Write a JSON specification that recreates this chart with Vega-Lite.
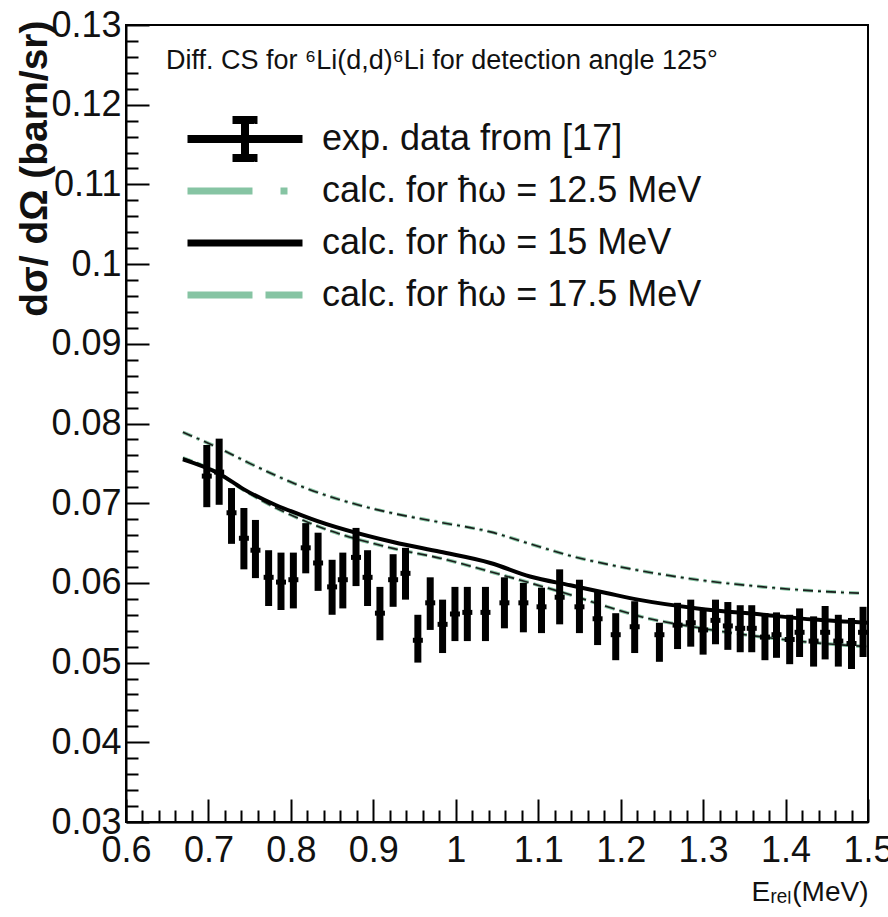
{
  "$schema": "https://vega.github.io/schema/vega-lite/v6.json",
  "width": 742,
  "height": 797,
  "autosize": "none",
  "padding": {"left": 126, "top": 25, "right": 20, "bottom": 95},
  "background": "white",
  "config": {
    "font": "Liberation Sans",
    "view": {"stroke": "#000", "strokeWidth": 2},
    "axis": {
      "grid": false,
      "domainColor": "#000",
      "domainWidth": 2,
      "tickColor": "#000",
      "tickWidth": 2,
      "labelFont": "Liberation Sans",
      "labelFontSize": 36,
      "labelColor": "#111",
      "labelFlush": false,
      "labelOverlap": false,
      "titleFont": "Liberation Sans",
      "titleColor": "#111"
    }
  },
  "title": {
    "text": "Diff. CS for ⁶Li(d,d)⁶Li for detection angle 125°",
    "anchor": "start",
    "frame": "group",
    "offset": -68,
    "dx": 40,
    "fontSize": 27,
    "fontWeight": "normal",
    "font": "Liberation Sans",
    "color": "#111"
  },
  "datasets": {
    "exp": [
      {"E": 0.698, "cs": 0.0734, "lo": 0.0695, "hi": 0.0773},
      {"E": 0.713, "cs": 0.0739, "lo": 0.0698, "hi": 0.0781},
      {"E": 0.728, "cs": 0.0688, "lo": 0.0649, "hi": 0.0719},
      {"E": 0.743, "cs": 0.0656, "lo": 0.0617, "hi": 0.0694},
      {"E": 0.757, "cs": 0.0641, "lo": 0.0606, "hi": 0.0679},
      {"E": 0.773, "cs": 0.0607, "lo": 0.0571, "hi": 0.0641},
      {"E": 0.788, "cs": 0.0601, "lo": 0.0566, "hi": 0.0638},
      {"E": 0.803, "cs": 0.0604, "lo": 0.0568, "hi": 0.0638},
      {"E": 0.818, "cs": 0.0644, "lo": 0.0612, "hi": 0.0675},
      {"E": 0.833, "cs": 0.0625, "lo": 0.0590, "hi": 0.0663},
      {"E": 0.850, "cs": 0.0595, "lo": 0.0560, "hi": 0.0629},
      {"E": 0.863, "cs": 0.0604, "lo": 0.0568, "hi": 0.0638},
      {"E": 0.879, "cs": 0.0632, "lo": 0.0596, "hi": 0.0669},
      {"E": 0.893, "cs": 0.0607, "lo": 0.0571, "hi": 0.0641},
      {"E": 0.908, "cs": 0.0562, "lo": 0.0528, "hi": 0.0595},
      {"E": 0.924, "cs": 0.0604, "lo": 0.0570, "hi": 0.0636},
      {"E": 0.939, "cs": 0.0612, "lo": 0.0579, "hi": 0.0644},
      {"E": 0.954, "cs": 0.0528, "lo": 0.0500, "hi": 0.0560},
      {"E": 0.969, "cs": 0.0575, "lo": 0.0541, "hi": 0.0607},
      {"E": 0.984, "cs": 0.0548, "lo": 0.0512, "hi": 0.0579},
      {"E": 0.999, "cs": 0.0561, "lo": 0.0527, "hi": 0.0595},
      {"E": 1.014, "cs": 0.0563, "lo": 0.0527, "hi": 0.0595},
      {"E": 1.036, "cs": 0.0563, "lo": 0.0527, "hi": 0.0595},
      {"E": 1.059, "cs": 0.0575, "lo": 0.0543, "hi": 0.0607},
      {"E": 1.082, "cs": 0.0575, "lo": 0.0538, "hi": 0.0600},
      {"E": 1.104, "cs": 0.0570, "lo": 0.0537, "hi": 0.0594},
      {"E": 1.126, "cs": 0.0582, "lo": 0.0548, "hi": 0.0617},
      {"E": 1.150, "cs": 0.0570, "lo": 0.0537, "hi": 0.0604},
      {"E": 1.172, "cs": 0.0555, "lo": 0.0522, "hi": 0.0589},
      {"E": 1.194, "cs": 0.0535, "lo": 0.0503, "hi": 0.0562},
      {"E": 1.217, "cs": 0.0545, "lo": 0.0512, "hi": 0.0577},
      {"E": 1.247, "cs": 0.0535, "lo": 0.0501, "hi": 0.0550},
      {"E": 1.269, "cs": 0.0547, "lo": 0.0517, "hi": 0.0575},
      {"E": 1.285, "cs": 0.0550, "lo": 0.0520, "hi": 0.0579},
      {"E": 1.300, "cs": 0.0541, "lo": 0.0510, "hi": 0.0567},
      {"E": 1.315, "cs": 0.0553, "lo": 0.0523, "hi": 0.0579},
      {"E": 1.330, "cs": 0.0546, "lo": 0.0516, "hi": 0.0576},
      {"E": 1.345, "cs": 0.0543, "lo": 0.0513, "hi": 0.0572},
      {"E": 1.359, "cs": 0.0543, "lo": 0.0513, "hi": 0.0572},
      {"E": 1.375, "cs": 0.0532, "lo": 0.0503, "hi": 0.0562},
      {"E": 1.389, "cs": 0.0535, "lo": 0.0506, "hi": 0.0563},
      {"E": 1.405, "cs": 0.0529, "lo": 0.0498, "hi": 0.0560},
      {"E": 1.417, "cs": 0.0538, "lo": 0.0507, "hi": 0.0568},
      {"E": 1.434, "cs": 0.0527, "lo": 0.0495, "hi": 0.0558},
      {"E": 1.448, "cs": 0.0538, "lo": 0.0504, "hi": 0.0571},
      {"E": 1.464, "cs": 0.0527, "lo": 0.0495, "hi": 0.0560},
      {"E": 1.480, "cs": 0.0524, "lo": 0.0492, "hi": 0.0556},
      {"E": 1.494, "cs": 0.0538, "lo": 0.0507, "hi": 0.0570}
    ],
    "calc": [
      {"series": "calc. for ħω = 12.5 MeV", "E": 0.669, "cs": 0.0789},
      {"series": "calc. for ħω = 12.5 MeV", "E": 0.713, "cs": 0.0769},
      {"series": "calc. for ħω = 12.5 MeV", "E": 0.750, "cs": 0.0750},
      {"series": "calc. for ħω = 12.5 MeV", "E": 0.823, "cs": 0.0717},
      {"series": "calc. for ħω = 12.5 MeV", "E": 0.896, "cs": 0.0694},
      {"series": "calc. for ħω = 12.5 MeV", "E": 0.930, "cs": 0.0686},
      {"series": "calc. for ħω = 12.5 MeV", "E": 0.981, "cs": 0.0676},
      {"series": "calc. for ħω = 12.5 MeV", "E": 1.042, "cs": 0.0664},
      {"series": "calc. for ħω = 12.5 MeV", "E": 1.090, "cs": 0.0649},
      {"series": "calc. for ħω = 12.5 MeV", "E": 1.139, "cs": 0.0634},
      {"series": "calc. for ħω = 12.5 MeV", "E": 1.200, "cs": 0.0620},
      {"series": "calc. for ħω = 12.5 MeV", "E": 1.293, "cs": 0.0604},
      {"series": "calc. for ħω = 12.5 MeV", "E": 1.373, "cs": 0.0595},
      {"series": "calc. for ħω = 12.5 MeV", "E": 1.434, "cs": 0.0590},
      {"series": "calc. for ħω = 12.5 MeV", "E": 1.493, "cs": 0.0587},
      {"series": "calc. for ħω = 15 MeV", "E": 0.669, "cs": 0.0755},
      {"series": "calc. for ħω = 15 MeV", "E": 0.713, "cs": 0.0737},
      {"series": "calc. for ħω = 15 MeV", "E": 0.742, "cs": 0.0718},
      {"series": "calc. for ħω = 15 MeV", "E": 0.823, "cs": 0.0681},
      {"series": "calc. for ħω = 15 MeV", "E": 0.925, "cs": 0.0651},
      {"series": "calc. for ħω = 15 MeV", "E": 0.981, "cs": 0.0639},
      {"series": "calc. for ħω = 15 MeV", "E": 1.042, "cs": 0.0625},
      {"series": "calc. for ħω = 15 MeV", "E": 1.090, "cs": 0.0608},
      {"series": "calc. for ħω = 15 MeV", "E": 1.139, "cs": 0.0597},
      {"series": "calc. for ħω = 15 MeV", "E": 1.184, "cs": 0.0587},
      {"series": "calc. for ħω = 15 MeV", "E": 1.221, "cs": 0.0579},
      {"series": "calc. for ħω = 15 MeV", "E": 1.293, "cs": 0.0568},
      {"series": "calc. for ħω = 15 MeV", "E": 1.373, "cs": 0.0560},
      {"series": "calc. for ħω = 15 MeV", "E": 1.434, "cs": 0.0554},
      {"series": "calc. for ħω = 15 MeV", "E": 1.500, "cs": 0.0550},
      {"series": "calc. for ħω = 17.5 MeV", "E": 0.669, "cs": 0.0757},
      {"series": "calc. for ħω = 17.5 MeV", "E": 0.713, "cs": 0.0737},
      {"series": "calc. for ħω = 17.5 MeV", "E": 0.742, "cs": 0.0717},
      {"series": "calc. for ħω = 17.5 MeV", "E": 0.823, "cs": 0.0675},
      {"series": "calc. for ħω = 17.5 MeV", "E": 0.925, "cs": 0.0643},
      {"series": "calc. for ħω = 17.5 MeV", "E": 0.981, "cs": 0.0631},
      {"series": "calc. for ħω = 17.5 MeV", "E": 1.042, "cs": 0.0614},
      {"series": "calc. for ħω = 17.5 MeV", "E": 1.090, "cs": 0.0600},
      {"series": "calc. for ħω = 17.5 MeV", "E": 1.139, "cs": 0.0585},
      {"series": "calc. for ħω = 17.5 MeV", "E": 1.184, "cs": 0.0570},
      {"series": "calc. for ħω = 17.5 MeV", "E": 1.227, "cs": 0.0557},
      {"series": "calc. for ħω = 17.5 MeV", "E": 1.293, "cs": 0.0544},
      {"series": "calc. for ħω = 17.5 MeV", "E": 1.373, "cs": 0.0532},
      {"series": "calc. for ħω = 17.5 MeV", "E": 1.434, "cs": 0.0525},
      {"series": "calc. for ħω = 17.5 MeV", "E": 1.500, "cs": 0.0520}
    ]
  },
  "encoding": {
    "x": {
      "field": "E", "type": "quantitative",
      "scale": {"domain": [0.6, 1.5], "nice": false, "zero": false},
      "axis": {
        "orient": "bottom",
        "values": [0.6, 0.62, 0.64, 0.66, 0.68, 0.7, 0.72, 0.74, 0.76, 0.78, 0.8, 0.82, 0.84, 0.86, 0.88, 0.9, 0.92, 0.94, 0.96, 0.98, 1.0, 1.02, 1.04, 1.06, 1.08, 1.1, 1.12, 1.14, 1.16, 1.18, 1.2, 1.22, 1.24, 1.26, 1.28, 1.3, 1.32, 1.34, 1.36, 1.38, 1.4, 1.42, 1.44, 1.46, 1.48, 1.5],
        "labelExpr": "abs(datum.value * 10 - round(datum.value * 10)) < 0.01 ? format(datum.value, '.1~f') : ''",
        "tickSize": {
          "condition": {"test": "abs(datum.value * 10 - round(datum.value * 10)) < 0.01", "value": -23},
          "value": -12
        },
        "labelPadding": 34,
        "title": "Eᵣₑₗ(MeV)",
        "titleFontSize": 28,
        "titleFontWeight": "normal",
        "titleAnchor": "end",
        "titleAlign": "right",
        "titleX": 742,
        "titleY": 78,
        "titleBaseline": "alphabetic"
      }
    },
    "y": {
      "field": "cs", "type": "quantitative",
      "scale": {"domain": [0.03, 0.13], "nice": false, "zero": false},
      "axis": {
        "orient": "left",
        "values": [0.03, 0.032, 0.034, 0.036, 0.038, 0.04, 0.042, 0.044, 0.046, 0.048, 0.05, 0.052, 0.054, 0.056, 0.058, 0.06, 0.062, 0.064, 0.066, 0.068, 0.07, 0.072, 0.074, 0.076, 0.078, 0.08, 0.082, 0.084, 0.086, 0.088, 0.09, 0.092, 0.094, 0.096, 0.098, 0.1, 0.102, 0.104, 0.106, 0.108, 0.11, 0.112, 0.114, 0.116, 0.118, 0.12, 0.122, 0.124, 0.126, 0.128, 0.13],
        "labelExpr": "abs(datum.value * 100 - round(datum.value * 100)) < 0.01 ? format(datum.value, '.2~f') : ''",
        "tickSize": {
          "condition": {"test": "abs(datum.value * 100 - round(datum.value * 100)) < 0.01", "value": -23},
          "value": -12
        },
        "labelPadding": 28,
        "title": "dσ/ dΩ (barn/sr)",
        "titleFontSize": 39,
        "titleFontWeight": "bold",
        "titleAngle": 270,
        "titleAlign": "right",
        "titleBaseline": "middle",
        "titleX": -92,
        "titleY": -5
      }
    }
  },
  "layer": [
    {
      "data": {"name": "calc"},
      "transform": [{"filter": "datum.series === 'calc. for ħω = 12.5 MeV'"}],
      "mark": {"type": "line", "strokeWidth": 3.5, "strokeDash": [10, 5, 3, 5], "interpolate": "monotone", "clip": true},
      "encoding": {
        "color": {
          "field": "series", "type": "nominal",
          "scale": {
            "domain": ["exp. data from [17]", "calc. for ħω = 12.5 MeV", "calc. for ħω = 15 MeV", "calc. for ħω = 17.5 MeV"],
            "range": ["#000000", "#86c4a3", "#000000", "#86c4a3"]
          },
          "legend": {
            "orient": "none",
            "legendX": 101,
            "legendY": 96,
            "title": null,
            "padding": 0,
            "rowPadding": 6,
            "symbolSize": 2601,
            "symbolStrokeWidth": 7,
            "labelFont": "Liberation Sans",
            "labelFontSize": 36,
            "labelColor": "#111",
            "labelOffset": 59,
            "labelLimit": 600,
            "encode": {
              "symbols": {
                "update": {
                  "shape": {"signal": "datum.index === 0 ? 'M-2.255,0H2.255M0,-0.745V0.745M-0.49,-0.745H0.49M-0.49,0.745H0.49' : 'M0,-0.745M0,0.745M-2.255,0H2.255'"},
                  "strokeDash": {"signal": "datum.index === 1 ? [65, 28, 7, 28] : datum.index === 3 ? [65, 13] : [1, 0]"},
                  "strokeWidth": {"signal": "datum.index === 0 ? 8 : 7"},
                  "strokeJoin": {"value": "bevel"},
                  "fill": {"value": "transparent"},
                  "opacity": {"value": 1}
                }
              }
            }
          }
        }
      }
    },
    {
      "data": {"name": "calc"},
      "transform": [{"filter": "datum.series === 'calc. for ħω = 12.5 MeV'"}],
      "mark": {"type": "line", "strokeWidth": 1.6, "color": "#1c1c1c", "strokeDash": [10, 5, 3, 5], "interpolate": "monotone", "clip": true}
    },
    {
      "data": {"name": "calc"},
      "transform": [{"filter": "datum.series === 'calc. for ħω = 17.5 MeV'"}],
      "mark": {"type": "line", "strokeWidth": 3.5, "strokeDash": [10, 5], "interpolate": "monotone", "clip": true},
      "encoding": {
        "color": {"field": "series", "type": "nominal"}
      }
    },
    {
      "data": {"name": "calc"},
      "transform": [{"filter": "datum.series === 'calc. for ħω = 17.5 MeV'"}],
      "mark": {"type": "line", "strokeWidth": 1.6, "color": "#1c1c1c", "strokeDash": [10, 5], "interpolate": "monotone", "clip": true}
    },
    {
      "data": {"name": "calc"},
      "transform": [{"filter": "datum.series === 'calc. for ħω = 15 MeV'"}],
      "mark": {"type": "line", "strokeWidth": 4, "interpolate": "monotone", "clip": true},
      "encoding": {
        "color": {"field": "series", "type": "nominal"}
      }
    },
    {
      "data": {"name": "exp"},
      "mark": {"type": "rule", "strokeWidth": 7, "clip": true},
      "encoding": {
        "y": {"field": "lo", "type": "quantitative"},
        "y2": {"field": "hi"},
        "color": {"datum": "exp. data from [17]", "type": "nominal"}
      }
    },
    {
      "data": {"name": "exp"},
      "mark": {"type": "tick", "orient": "horizontal", "size": 10, "thickness": 5, "color": "#000", "opacity": 1, "clip": true}
    }
  ]
}
